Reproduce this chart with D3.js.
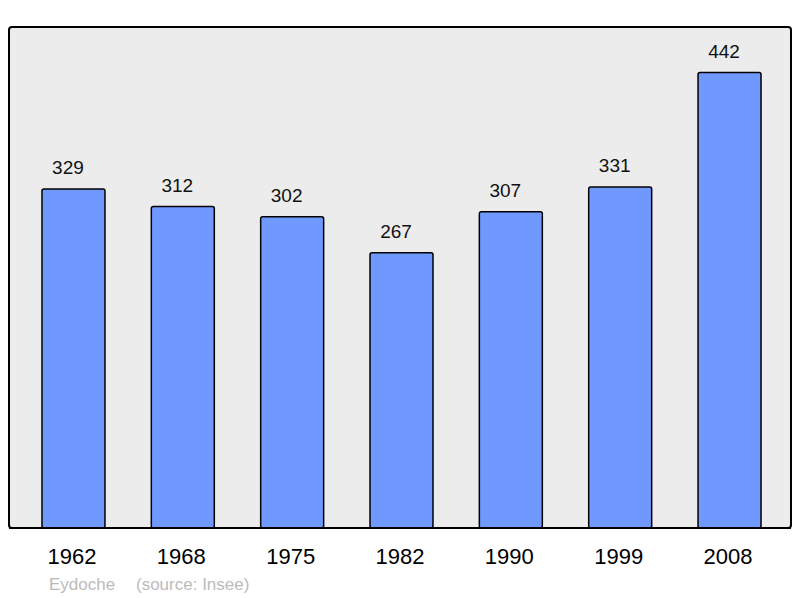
<!DOCTYPE html>
<html><head><meta charset="utf-8">
<script src="https://cdn.jsdelivr.net/npm/d3@7"></script>
<style>html,body{margin:0;padding:0;background:#fff;}svg{display:block;}</style>
</head><body>
<script>
const years = ["1962","1968","1975","1982","1990","1999","2008"];
const population = [329,312,302,267,307,331,442];
const credits = ["Eydoche","(source: Insee)"];

const W = 800, H = 598;
const frame = {x0: 9, y0: 27, x1: 791, y1: 528};
const svg = d3.select("body").append("svg").attr("width", W).attr("height", H)
  .style("font-family", "'Liberation Sans', Arial, sans-serif");

svg.append("rect").attr("x", frame.x0).attr("y", frame.y0)
  .attr("width", frame.x1 - frame.x0).attr("height", frame.y1 - frame.y0)
  .attr("rx", 3).attr("ry", 3)
  .attr("fill", "#ececec").attr("stroke", "#000").attr("stroke-width", 2);

const x = d3.scaleBand().domain(years).range([18.8, 784.2])
  .paddingInner(0.424).paddingOuter(0.212);
const y = d3.scaleLinear().domain([0, d3.max(population) * 1.1]).range([frame.y1, frame.y0]);

const data = years.map((yr, i) => ({year: yr, value: population[i]}));

svg.append("g").selectAll("rect").data(data).join("rect")
  .attr("x", d => x(d.year)).attr("y", d => y(d.value))
  .attr("width", x.bandwidth()).attr("height", d => y(0) - y(d.value))
  .attr("rx", 2).attr("ry", 2)
  .attr("fill", "#7099ff").attr("stroke", "#000").attr("stroke-width", 1.5);

svg.append("g").selectAll("text").data(data).join("text")
  .attr("x", d => x(d.year) + x.bandwidth() / 2 - 5.5).attr("y", d => y(d.value) - 14.5)
  .attr("text-anchor", "middle").attr("font-size", 19).attr("fill", "#111")
  .text(d => d.value);

// redraw frame bottom over bars
svg.append("line").attr("x1", frame.x0).attr("x2", frame.x1).attr("y1", frame.y1).attr("y2", frame.y1)
  .attr("stroke", "#000").attr("stroke-width", 2);

const xAxis = d3.axisBottom(x).tickSize(0).tickPadding(0);
const ax = svg.append("g").attr("transform", `translate(-1.5,${frame.y1})`).call(xAxis);
ax.select(".domain").remove();
ax.selectAll("text").attr("font-size", 22).attr("fill", "#000")
  .attr("font-family", "'Liberation Sans', Arial, sans-serif")
  .attr("dy", null).attr("y", 36);

svg.append("text").attr("x", 49).attr("y", 590).attr("font-size", 17).attr("fill", "#bbb").text(credits[0]);
svg.append("text").attr("x", 136).attr("y", 590).attr("font-size", 17).attr("fill", "#bbb").text(credits[1]);
</script>
</body></html>
